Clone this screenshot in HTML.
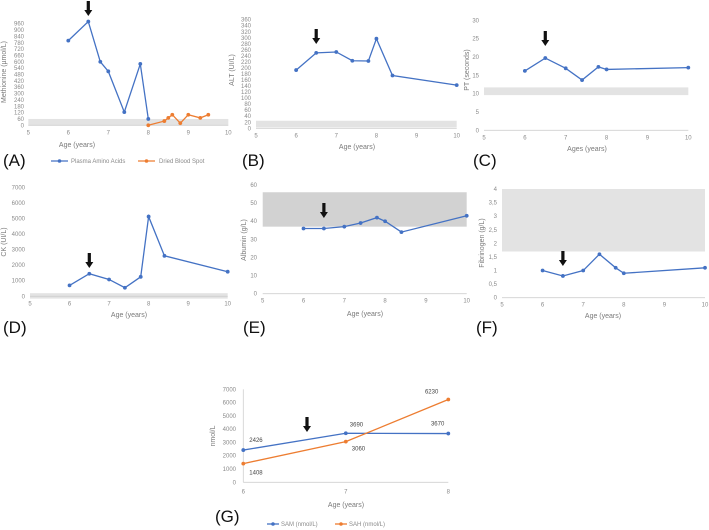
<!DOCTYPE html>
<html><head><meta charset="utf-8"><style>
html,body{margin:0;padding:0;background:#fff;}
svg{display:block;font-family:"Liberation Sans",sans-serif;}
.tk{font-size:6px;fill:#8a8a8a;}
.tt{font-size:7px;fill:#7a7a7a;}
.pl{font-size:17px;fill:#111;}
</style></head><body>
<svg id="fig" width="709" height="530" viewBox="0 0 709 530" xmlns="http://www.w3.org/2000/svg"></svg>
<script>
// Panel A
const aX1=[6,6.5,6.8,7,7.4,7.8,8];
const aY1=[800,980,600,510,125,580,60];
const aX2=[8,8.4,8.5,8.6,8.8,9,9.3,9.5];
const aY2=[0,40,70,100,20,100,70,100];
// Panel B
const bX=[6,6.5,7,7.4,7.8,8,8.4,10];
const bY=[193,250,253,224,223,297,175,143];
// Panel C
const cX=[6,6.5,7,7.4,7.8,8,10];
const cY=[16.2,19.7,16.9,13.7,17.3,16.6,17.1];
// Panel D
const dX=[6,6.5,7,7.4,7.8,8,8.4,10];
const dY=[700,1450,1080,550,1250,5120,2600,1580];
// Panel E
const eX=[6,6.5,7,7.4,7.8,8,8.4,10];
const eY=[36,36,37,39,42,40,34,43];
// Panel F
const fX=[6,6.5,7,7.4,7.8,8,10];
const fY=[1.0,0.8,1.0,1.6,1.1,0.9,1.1];
// Panel G
const gAges=[6,7,8];
const gSAM=[2426,3690,3670];
const gSAH=[1408,3060,6230];
const xTicks=[5,6,7,8,9,10];

const NS="http://www.w3.org/2000/svg";
const svg=document.getElementById('fig');
function mk(tag,attrs,parent,text){const e=document.createElementNS(NS,tag);for(const k in attrs)e.setAttribute(k,attrs[k]);if(text!==undefined)e.textContent=text;(parent||svg).appendChild(e);return e;}

function panel(p){
  const g=mk('g',{});
  
  
  const sx=v=>p.px0+(v-p.dx0)/(p.dx1-p.dx0)*(p.px1-p.px0);
  const sy=v=>p.py0-(v-p.dy0)/(p.dy1-p.dy0)*(p.py0-p.py1);
  if(p.band){const r=mk('rect',{x:p.px0,y:sy(p.band[1]),width:p.px1-p.px0,height:sy(p.band[0])-sy(p.band[1]),fill:p.bandFill||'#e3e3e3'},g);
    }
  const ax=mk('line',{x1:p.px0,x2:p.px1,y1:p.py0,y2:p.py0,stroke:'#d0d0d0','stroke-width':0.8},g);
  
  if(p.yaxisLine){const l=mk('line',{x1:p.px0,x2:p.px0,y1:p.py0,y2:p.py1,stroke:'#d0d0d0','stroke-width':0.8},g);
    }
  p.xt.forEach(v=>{const t=mk('text',{x:sx(v),y:p.py0+p.xtOff,'text-anchor':'middle',class:'tk'},g,String(v));
    });
  p.yt.forEach(v=>{const t=mk('text',{x:p.ytx,y:sy(v)+2,'text-anchor':'end',class:'tk'},g,p.fmt?p.fmt(v):String(v));
    });
  const xt=mk('text',{x:p.xtitle[1],y:p.xtitle[2],'text-anchor':'middle',class:'tt'},g,p.xtitle[0]);
  
  const yt=mk('text',{x:0,y:0,'text-anchor':'middle',class:'tt',transform:`translate(${p.ytitle[1]},${p.ytitle[2]}) rotate(-90)`},g,p.ytitle[0]);
  
  p.series.forEach(s=>{
    const pts=s.x.map((v,i)=>sx(v)+','+sy(s.y[i])).join(' ');
    const pl=mk('polyline',{points:pts,fill:'none',stroke:s.c,'stroke-width':1.3},g);
    
    s.x.forEach((v,i)=>{const c=mk('circle',{cx:sx(v),cy:sy(s.y[i]),r:1.9,fill:s.c},g);
      });
  });
  if(p.arrow){arrow(sx(p.arrow[0]),p.arrow[1],g);}
  const lab=mk('text',{x:p.label[1],y:p.label[2],class:'pl'},g,p.label[0]);
  
  return {g,sx,sy};
}
function arrow(x,y,g){
  const a=mk('polygon',{points:`${x-1.6},${y} ${x+1.6},${y} ${x+1.6},${y+9} ${x+4},${y+9} ${x},${y+15} ${x-4},${y+9} ${x-1.6},${y+9}`,fill:'#111'},g);
  
}
const B='#4472c4',O='#ed7d31';
const rng=(a,b,s)=>{const r=[];for(let v=a;v<=b+1e-9;v+=s)r.push(+v.toFixed(2));return r;};

panel({name:'panel-a-methionine',px0:28.3,px1:228.3,dx0:5,dx1:10,py0:125.3,py1:23.7,dy0:0,dy1:960,
  band:[0,60],xt:xTicks,xtOff:9,yt:rng(0,960,60),ytx:24,xtitle:['Age (years)',77,147],ytitle:['Methionine (µmol/L)',6,72],
  series:[{x:aX1,y:aY1,c:B,n:'plasma-amino-acids'},{x:aX2,y:aY2,c:O,n:'dried-blood-spot'}],arrow:[6.5,1],label:['(A)',3,166]});
// legend A
(function(){const g=mk('g',{});
 mk('line',{x1:51,x2:68,y1:161,y2:161,stroke:B,'stroke-width':1.3},g);mk('circle',{cx:59.5,cy:161,r:1.8,fill:B},g);
 const t1=mk('text',{x:71,y:163,class:'tk'},g,'Plasma Amino Acids');
 mk('line',{x1:138,x2:155,y1:161,y2:161,stroke:O,'stroke-width':1.3},g);mk('circle',{cx:146.5,cy:161,r:1.8,fill:O},g);
 const t2=mk('text',{x:159,y:163,class:'tk'},g,'Dried Blood Spot');})();

panel({name:'panel-b-alt',px0:256,px1:456.7,dx0:5,dx1:10,py0:128.3,py1:19.7,dy0:0,dy1:360,
  band:[3,25],xt:xTicks,xtOff:9,yt:rng(0,360,20),ytx:251,xtitle:['Age (years)',357,149],ytitle:['ALT (UI/L)',234,70],
  series:[{x:bX,y:bY,c:B,n:'alt'}],arrow:[6.5,29],label:['(B)',242,166]});

panel({name:'panel-c-pt',px0:484,px1:688.3,dx0:5,dx1:10,py0:130.3,py1:20.3,dy0:0,dy1:30,
  band:[9.6,11.7],xt:xTicks,xtOff:9,yt:rng(0,30,5),ytx:479,xtitle:['Ages (years)',587,151],ytitle:['PT (seconds)',469,70],
  series:[{x:cX,y:cY,c:B,n:'pt'}],arrow:[6.5,31],label:['(C)',473,166]});

panel({name:'panel-d-ck',px0:30,px1:227.7,dx0:5,dx1:10,py0:296.3,py1:187.3,dy0:0,dy1:7000,
  band:[-150,200],xt:xTicks,xtOff:9,yt:rng(0,7000,1000),ytx:25,xtitle:['Age (years)',129,317],ytitle:['CK (UI/L)',6,242],
  series:[{x:dX,y:dY,c:B,n:'ck'}],arrow:[6.5,253],label:['(D)',3,333]});

panel({name:'panel-e-albumin',px0:262.7,px1:466.7,dx0:5,dx1:10,py0:293.7,py1:185,dy0:0,dy1:60,
  band:[37,56],bandFill:'#d2d2d2',xt:xTicks,xtOff:9,yt:rng(0,60,10),ytx:257,xtitle:['Age (years)',365,316],ytitle:['Albumin (g/L)',246,240],
  series:[{x:eX,y:eY,c:B,n:'albumin'}],arrow:[6.5,203],label:['(E)',243,333]});

panel({name:'panel-f-fibrinogen',px0:502,px1:705,dx0:5,dx1:10,py0:297.7,py1:189,dy0:0,dy1:4,
  band:[1.7,4],xt:xTicks,xtOff:9,yt:rng(0,4,0.5),ytx:497,fmt:v=>String(v).replace('.',','),xtitle:['Age (years)',603,318],ytitle:['Fibrinogen (g/L)',484,243],
  series:[{x:fX,y:fY,c:B,n:'fibrinogen'}],arrow:[6.5,251],label:['(F)',476,333]});

const G=panel({name:'panel-g-sam-sah',px0:243.3,px1:448.3,dx0:6,dx1:8,py0:482.3,py1:389.3,dy0:0,dy1:7000,yaxisLine:true,
  xt:[6,7,8],xtOff:11,yt:rng(0,7000,1000),ytx:236,xtitle:['Age (years)',346,507],ytitle:['nmol/L',215,436],
  series:[{x:gAges,y:gSAM,c:B,n:'sam'},{x:gAges,y:gSAH,c:O,n:'sah'}],label:['(G)',215,522]});
arrow(307,417,G.g);
// data labels G
const offs=[[[6,-8,'start'],[4,-7,'start'],[-4,-8,'end']],[[6,11,'start'],[6,9,'start'],[-10,-6,'end']]];
[gSAM,gSAH].forEach((arr,si)=>arr.forEach((v,i)=>{const o=offs[si][i];
  const t=mk('text',{x:G.sx(gAges[i])+o[0],y:G.sy(v)+o[1],'text-anchor':o[2],style:'font-size:6px;fill:#444'},G.g,String(v));
  }));
// legend G
(function(){const g=mk('g',{});
 mk('line',{x1:267,x2:279,y1:524,y2:524,stroke:B,'stroke-width':1.3},g);mk('circle',{cx:273,cy:524,r:1.8,fill:B},g);
 const t1=mk('text',{x:281,y:526,class:'tk'},g,'SAM (nmol/L)');
 mk('line',{x1:335,x2:347,y1:524,y2:524,stroke:O,'stroke-width':1.3},g);mk('circle',{cx:341,cy:524,r:1.8,fill:O},g);
 const t2=mk('text',{x:349,y:526,class:'tk'},g,'SAH (nmol/L)');})();
</script>
</body></html>
